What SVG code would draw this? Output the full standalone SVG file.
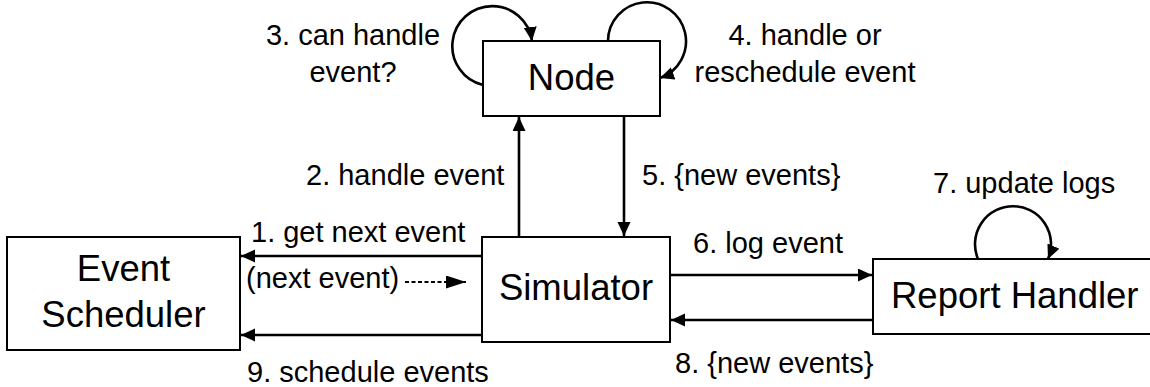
<svg xmlns="http://www.w3.org/2000/svg" width="1150" height="387" viewBox="0 0 1150 387">
<style>
.box{fill:#fff;stroke:#000;stroke-width:2}
.main{font-family:"Liberation Sans",Arial,sans-serif;font-size:36.5px;fill:#000}
.lbl{font-family:"Liberation Sans",Arial,sans-serif;font-size:29px;fill:#000}
.ln{fill:none;stroke:#000;stroke-width:2.6}
.dash{fill:none;stroke:#000;stroke-width:2;stroke-dasharray:4 2.5}
</style>
<defs>
<marker id="ah" markerUnits="userSpaceOnUse" markerWidth="16" markerHeight="16" refX="14" refY="6.5" orient="auto">
<path d="M0,0 L14,6.5 L0,13 z" fill="#000"/>
</marker>
<marker id="ahd" markerUnits="userSpaceOnUse" markerWidth="22" markerHeight="16" refX="20" refY="6.5" orient="auto">
<path d="M0,0 L20,6.5 L0,13 z" fill="#000"/>
</marker>
</defs>
<rect width="1150" height="387" fill="#fff"/>
<g id="connectors">
<path class="ln" d="M482,256 H241" marker-end="url(#ah)"/>
<path class="dash" d="M405,282 H466" marker-end="url(#ahd)"/>
<path class="ln" d="M482,335 H241" marker-end="url(#ah)"/>
<path class="ln" d="M519,237 V117" marker-end="url(#ah)"/>
<path class="ln" d="M624,116 V236" marker-end="url(#ah)"/>
<path class="ln" d="M670,275 H872" marker-end="url(#ah)"/>
<path class="ln" d="M873,320 H671" marker-end="url(#ah)"/>
<path class="ln" d="M483,85 A40,40 0 1 1 532,41" marker-end="url(#ah)"/>
<path class="ln" d="M608,41 A39,39 0 1 1 660,78" marker-end="url(#ah)"/>
<path class="ln" d="M978,259 A38,38 0 1 1 1048,259" marker-end="url(#ah)"/>
<text class="lbl" x="251" y="242">1. get next event</text>
<text class="lbl" x="246" y="288">(next event)</text>
<text class="lbl" x="247" y="382">9. schedule events</text>
<text class="lbl" x="306" y="185">2. handle event</text>
<text class="lbl" x="642" y="185">5. {new events}</text>
<text class="lbl" x="353" y="45" text-anchor="middle">3. can handle</text>
<text class="lbl" x="353" y="82" text-anchor="middle">event?</text>
<text class="lbl" x="805" y="45" text-anchor="middle">4. handle or</text>
<text class="lbl" x="805" y="82" text-anchor="middle">reschedule event</text>
<text class="lbl" x="693" y="253">6. log event</text>
<text class="lbl" x="933" y="193">7. update logs</text>
<text class="lbl" x="675" y="373">8. {new events}</text>
</g>
<g id="node-scheduler">
<rect class="box" x="7" y="237" width="233" height="113"/>
<text class="main" x="123.5" y="281" text-anchor="middle">Event</text>
<text class="main" x="123.5" y="327" text-anchor="middle">Scheduler</text>
</g>
<g id="node-simulator">
<rect class="box" x="482" y="237" width="188" height="105"/>
<text class="main" x="576" y="300" text-anchor="middle">Simulator</text>
</g>
<g id="node-node">
<rect class="box" x="483" y="41" width="177" height="75"/>
<text class="main" x="571.5" y="90" text-anchor="middle">Node</text>
</g>
<g id="node-report">
<rect class="box" x="873" y="259" width="280" height="75"/>
<text class="main" x="891" y="308">Report Handler</text>
</g>
</svg>
